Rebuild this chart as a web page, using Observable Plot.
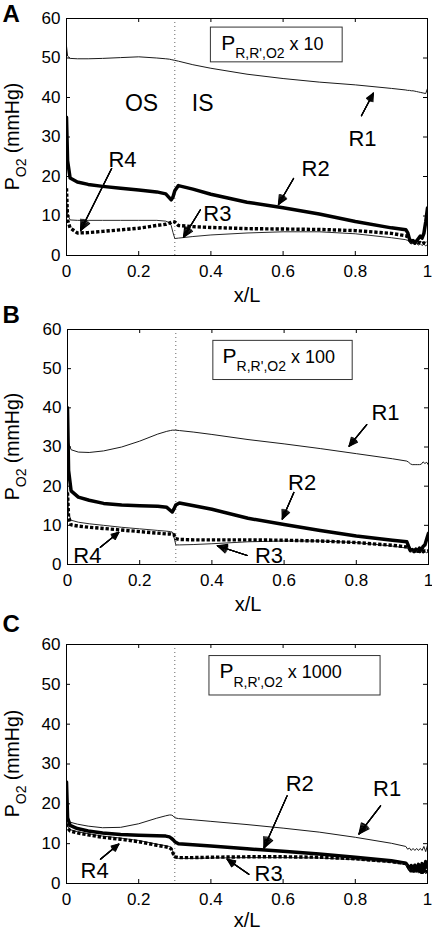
<!DOCTYPE html>
<html>
<head>
<meta charset="utf-8">
<script src="https://cdn.jsdelivr.net/npm/d3@7"></script>
<script src="https://cdn.jsdelivr.net/npm/@observablehq/plot@0.6"></script>
<style>
  html, body { margin: 0; padding: 0; background: #fff; }
  body { font-family: "Liberation Sans", Arial, sans-serif; }
  #chart { position: relative; width: 432px; height: 931px; overflow: hidden; }
  #chart svg { display: block; position: absolute; left: 0; background: transparent; }
</style>
</head>
<body>
<div id="chart"></div>
<script>
// ---------- data ----------
const X = [0, 0.003, 0.01, 0.03, 0.06, 0.1, 0.15, 0.2, 0.25, 0.275, 0.285, 0.29, 0.295, 0.3, 0.31, 0.35, 0.4, 0.5, 0.6, 0.7, 0.8, 0.9, 0.94, 0.945, 0.95, 0.955, 0.96, 0.965, 0.97, 0.975, 0.98, 0.985, 0.99, 0.995, 1];
const SERIES = ["R1", "R2", "R3", "R4"];

// Panel A  (P_R,R',O2 x 10)
const A_R1 = [53, 50.5, 49.9, 49.8, 49.8, 49.9, 50.1, 50.3, 50.0, 49.8, 49.7, 49.6, 49.5, 49.4, 49.2, 48.3, 47.4, 45.9, 44.8, 43.9, 43.2, 42.3, 41.9, 41.8, 41.8, 41.7, 41.7, 41.6, 41.5, 41.4, 41.3, 41.2, 41.1, 41.0, 42.3];
const A_R2 = [35, 24, 19.6, 18.6, 18.0, 17.5, 17.0, 16.6, 16.1, 15.6, 14.6, 14.1, 14.8, 16.4, 17.7, 16.8, 15.5, 13.5, 12.1, 10.5, 8.6, 7.0, 6.5, 5.8, 4.2, 3.3, 3.8, 3.1, 3.7, 4.3, 4.9, 4.4, 5.6, 8.5, 12];
const A_R3 = [15, 10.5, 9.0, 8.9, 8.9, 8.9, 8.9, 8.9, 8.9, 8.7, 8.3, 7.6, 5.8, 4.3, 4.4, 4.8, 5.2, 5.7, 6.0, 6.0, 5.5, 4.5, 4.0, 3.8, 3.4, 3.0, 3.3, 2.8, 3.1, 2.6, 3.0, 2.5, 2.9, 2.4, 2.8];
const A_R4 = [17, 9, 7.0, 5.7, 5.8, 6.1, 6.5, 6.9, 7.6, 7.9, 8.2, 8.4, 8.6, 8.5, 7.6, 7.3, 7.1, 6.8, 6.7, 6.6, 6.3, 5.6, 5.0, 4.7, 4.0, 3.5, 3.6, 3.3, 3.4, 3.2, 3.3, 3.0, 3.2, 3.0, 3.2];

// Panel B  (x 100)
const B_R1 = [36, 31, 29.3, 28.7, 28.6, 29.0, 30.0, 31.5, 33.3, 34.0, 34.2, 34.3, 34.3, 34.3, 34.2, 33.8, 33.2, 31.9, 30.8, 29.6, 28.3, 27.0, 26.4, 26.1, 25.7, 25.5, 25.5, 25.5, 25.5, 25.5, 25.6, 26.2, 25.8, 26.1, 25.4];
const B_R2 = [40, 24, 18.8, 17.2, 16.4, 15.6, 15.2, 15.0, 14.9, 14.6, 13.8, 13.4, 14.2, 15.2, 15.7, 15.0, 14.1, 11.8, 10.2, 8.7, 7.3, 6.2, 5.8, 4.6, 3.5, 3.8, 3.3, 3.9, 3.4, 4.2, 3.6, 4.6, 5.0, 6.5, 8.0];
const B_R3 = [20, 13, 11.3, 10.8, 10.4, 10.0, 9.5, 9.1, 8.7, 8.5, 8.4, 8.3, 7.0, 5.0, 5.0, 5.1, 5.3, 5.8, 6.0, 6.0, 5.6, 4.7, 4.2, 4.0, 3.5, 3.2, 3.6, 3.1, 3.5, 3.0, 3.4, 2.9, 3.3, 3.0, 3.3];
const B_R4 = [18.4, 12, 10.1, 9.8, 9.5, 9.2, 8.8, 8.4, 8.0, 7.8, 7.8, 7.7, 7.6, 6.6, 6.4, 6.3, 6.3, 6.3, 6.2, 6.0, 5.6, 4.9, 4.5, 4.2, 3.8, 3.5, 3.7, 3.4, 3.6, 3.3, 3.5, 3.3, 3.5, 3.4, 3.5];

// Panel C  (x 1000)
const C_R1 = [17, 16, 15.4, 14.9, 14.4, 14.0, 14.1, 15.0, 16.4, 17.0, 17.2, 17.2, 17.0, 16.5, 16.3, 16.0, 15.6, 14.8, 13.9, 12.9, 11.6, 10.1, 9.3, 8.6, 8.9, 8.3, 8.8, 8.3, 8.8, 8.3, 8.8, 8.3, 9.3, 8.0, 9.6];
const C_R2 = [25.5, 16.5, 14.6, 13.8, 13.2, 12.7, 12.3, 12.1, 12.0, 11.9, 11.7, 11.4, 11.0, 10.5, 10.0, 9.7, 9.4, 8.7, 8.1, 7.4, 6.6, 5.7, 5.1, 4.5, 3.6, 4.5, 3.3, 4.6, 3.2, 4.8, 3.0, 5.0, 3.2, 5.5, 4.0];
const C_R3 = [15.5, 14.3, 13.5, 13.0, 12.5, 11.9, 11.4, 10.8, 9.9, 9.5, 9.3, 9.0, 7.8, 6.5, 6.3, 6.3, 6.4, 6.5, 6.5, 6.4, 6.0, 5.3, 4.8, 4.2, 3.5, 2.9, 3.5, 2.7, 3.3, 2.6, 3.4, 2.5, 3.3, 2.4, 3.2];
const C_R4 = [15, 14, 13.2, 12.7, 12.2, 11.6, 11.1, 10.5, 9.6, 9.2, 9.0, 8.7, 7.6, 6.7, 6.5, 6.5, 6.6, 6.7, 6.7, 6.6, 6.2, 5.5, 5.0, 4.4, 3.6, 3.0, 3.6, 2.8, 3.4, 2.7, 3.5, 2.6, 3.4, 2.5, 3.3];

const X_TICKS = [0, 0.2, 0.4, 0.6, 0.8, 1];
const Y_TICKS = [0, 10, 20, 30, 40, 50, 60];
const BOUNDARY = [0.3];          // OS / IS boundary
const PANEL_LETTERS = ["A", "B", "C"];
const FACTORS = ["x 10", "x 100", "x 1000"];
const X_LABEL = "x/L";

// annotations (data coordinates)
const A_ZONES = [{t: "OS", x: 0.208, y: 38.5}, {t: "IS", x: 0.377, y: 38.5}];
const A_TEXT = [{t: "R1", x: 0.82, y: 29.6}, {t: "R2", x: 0.69, y: 22}, {t: "R3", x: 0.418, y: 10.6}, {t: "R4", x: 0.155, y: 24.3}];
const A_ARROWS = [{x1: 0.817, y1: 35.4, x2: 0.850, y2: 41.1}, {x1: 0.629, y1: 19.5, x2: 0.587, y2: 12.9},
  {x1: 0.371, y1: 11.6, x2: 0.324, y2: 4.6}, {x1: 0.125, y1: 22.0, x2: 0.039, y2: 6.3}];
const A_BOX = {x1: 0.40, x2: 0.765, y1: 48.9, y2: 57.7, tx: 0.430, ty: 51.9};

const B_TEXT = [{t: "R1", x: 0.881, y: 38.7}, {t: "R2", x: 0.65, y: 20.9}, {t: "R3", x: 0.558, y: 2.3}, {t: "R4", x: 0.055, y: 2.3}];
const B_ARROWS = [{x1: 0.829, y1: 35.7, x2: 0.78, y2: 30.2}, {x1: 0.627, y1: 18.4, x2: 0.595, y2: 11.6},
  {x1: 0.498, y1: 2.3, x2: 0.415, y2: 4.8}, {x1: 0.091, y1: 4.4, x2: 0.142, y2: 8.2}];
const B_BOX = {x1: 0.404, x2: 0.79, y1: 47.1, y2: 57.1, tx: 0.431, ty: 51.4};

const C_TEXT = [{t: "R1", x: 0.888, y: 23.7}, {t: "R2", x: 0.646, y: 25}, {t: "R3", x: 0.56, y: 2.3}, {t: "R4", x: 0.078, y: 3.1}];
const C_ARROWS = [{x1: 0.870, y1: 19.5, x2: 0.81, y2: 12.4}, {x1: 0.611, y1: 22.0, x2: 0.547, y2: 8.9},
  {x1: 0.505, y1: 2.3, x2: 0.445, y2: 6.1}, {x1: 0.094, y1: 6.1, x2: 0.145, y2: 9.9}];
const C_BOX = {x1: 0.396, x2: 0.87, y1: 47.2, y2: 57.1, tx: 0.425, ty: 51.4};

// ---------- layout ----------
const FONT = "Liberation Sans, Arial, sans-serif";
const panels = [
  {letter: PANEL_LETTERS[0], factor: FACTORS[0], series: [A_R1, A_R2, A_R3, A_R4], zones: A_ZONES, text: A_TEXT, arrows: A_ARROWS, box: A_BOX,
   top: 0, h: 310, mt: 18, mb: 55, ml: 66, mr: 5, letterY: 21.7, xlab: 46},
  {letter: PANEL_LETTERS[1], factor: FACTORS[1], series: [B_R1, B_R2, B_R3, B_R4], zones: [], text: B_TEXT, arrows: B_ARROWS, box: B_BOX,
   top: 298, h: 322, mt: 31, mb: 56, ml: 67, mr: 4, letterY: 24.7, xlab: 46},
  {letter: PANEL_LETTERS[2], factor: FACTORS[2], series: [C_R1, C_R2, C_R3, C_R4], zones: [], text: C_TEXT, arrows: C_ARROWS, box: C_BOX,
   top: 610, h: 321, mt: 34, mb: 48, ml: 66, mr: 5, letterY: 21.7, xlab: 43}
];

const lineStyle = {
  R1: {stroke: "#1a1a1a", strokeWidth: 1},
  R2: {stroke: "#000", strokeWidth: 3.5},
  R3: {stroke: "#2a2a2a", strokeWidth: 1},
  R4: {stroke: "#000", strokeWidth: 3.4, strokeDasharray: "3.3,1.9", strokeLinecap: "butt", strokeLinejoin: "miter"}
};

function rich(svg, x, y, parts, rotate) {
  const t = d3.select(svg).append("text")
    .attr("transform", `translate(${x},${y})` + (rotate ? ` rotate(${rotate})` : ""))
    .attr("font-family", FONT).attr("fill", "#000")
    .attr("text-anchor", rotate ? "middle" : "start");
  parts.forEach(p => t.append("tspan").attr("font-size", p.size).attr("dy", p.dy || 0).text(p.text));
}

function makePanel(cfg) {
  const rows = [];
  cfg.series.forEach((ys, i) => ys.forEach((v, j) => rows.push({x: X[j], y: v, s: SERIES[i]})));
  const fw = 432 - cfg.ml - cfg.mr, fh = cfg.h - cfg.mt - cfg.mb, TL = 4;
  const plot = Plot.plot({
    width: 432, height: cfg.h,
    marginTop: cfg.mt, marginBottom: cfg.mb, marginLeft: cfg.ml, marginRight: cfg.mr,
    style: {fontFamily: FONT, fontSize: "17px", background: "transparent", color: "#000", overflow: "visible"},
    x: {domain: [0, 1]},
    y: {domain: [0, 60]},
    marks: [
      Plot.ruleX(BOUNDARY, {stroke: "#666", strokeWidth: 1, strokeDasharray: "1,3"}),
      ...SERIES.map(s => Plot.line(rows.filter(r => r.s === s), {x: "x", y: "y", strokeLinejoin: "round", ...lineStyle[s], clip: true})),
      Plot.rect([cfg.box], {x1: "x1", x2: "x2", y1: "y1", y2: "y2", fill: "none", stroke: "#333", strokeWidth: 1}),
      Plot.text(cfg.zones, {x: "x", y: "y", text: "t", fontSize: 23, fill: "#000"}),
      Plot.text(cfg.text, {x: "x", y: "y", text: "t", fontSize: 22, fill: "#000"}),
      ...[50, 38, 26, 14].map(a => Plot.arrow(cfg.arrows, {x1: "x1", y1: "y1", x2: "x2", y2: "y2",
        headAngle: a, headLength: 15, strokeWidth: 1.15, stroke: "#000"})),
      // inward tick marks on all four sides
      Plot.tickX(X_TICKS, {x: d => d, insetTop: fh - TL, stroke: "#000"}),
      Plot.tickX(X_TICKS, {x: d => d, insetBottom: fh - TL, stroke: "#000"}),
      Plot.tickY(Y_TICKS, {y: d => d, insetRight: fw - TL, stroke: "#000"}),
      Plot.tickY(Y_TICKS, {y: d => d, insetLeft: fw - TL, stroke: "#000"}),
      Plot.frame({stroke: "#000", strokeWidth: 1}),
      Plot.axisX({ticks: X_TICKS, anchor: "bottom", tickSize: 0, tickPadding: 9, tickFormat: d => String(d), label: null, fontSize: 17}),
      Plot.axisY({ticks: Y_TICKS, anchor: "left", tickSize: 0, tickPadding: 6, tickFormat: d => String(d), label: null, fontSize: 17}),
      Plot.text([X_LABEL], {text: d => d, frameAnchor: "bottom", dy: cfg.xlab, lineAnchor: "bottom", fontSize: 20}),
      Plot.text([cfg.letter], {text: d => d, frameAnchor: "top-left", dx: 2 - cfg.ml, dy: cfg.letterY - cfg.mt,
        textAnchor: "start", lineAnchor: "bottom", fontSize: 24, fontWeight: "bold"})
    ]
  });
  const sx = plot.scale("x"), sy = plot.scale("y");
  // y-axis label with subscript
  rich(plot, 19, (cfg.mt + cfg.h - cfg.mb) / 2, [
    {text: "P", size: 19.5}, {text: "O2", size: 14, dy: 6.5}, {text: " (mmHg)", size: 19.5, dy: -6.5}
  ], -90);
  // box caption with subscript
  rich(plot, sx.apply(cfg.box.tx), sy.apply(cfg.box.ty), [
    {text: "P", size: 21}, {text: "R,R',O2", size: 14, dy: 8.3}, {text: " " + cfg.factor, size: 18, dy: -8.3}
  ]);
  plot.style.top = cfg.top + "px";
  return plot;
}

const chart = document.getElementById("chart");
panels.forEach(p => chart.appendChild(makePanel(p)));
</script>
</body>
</html>
